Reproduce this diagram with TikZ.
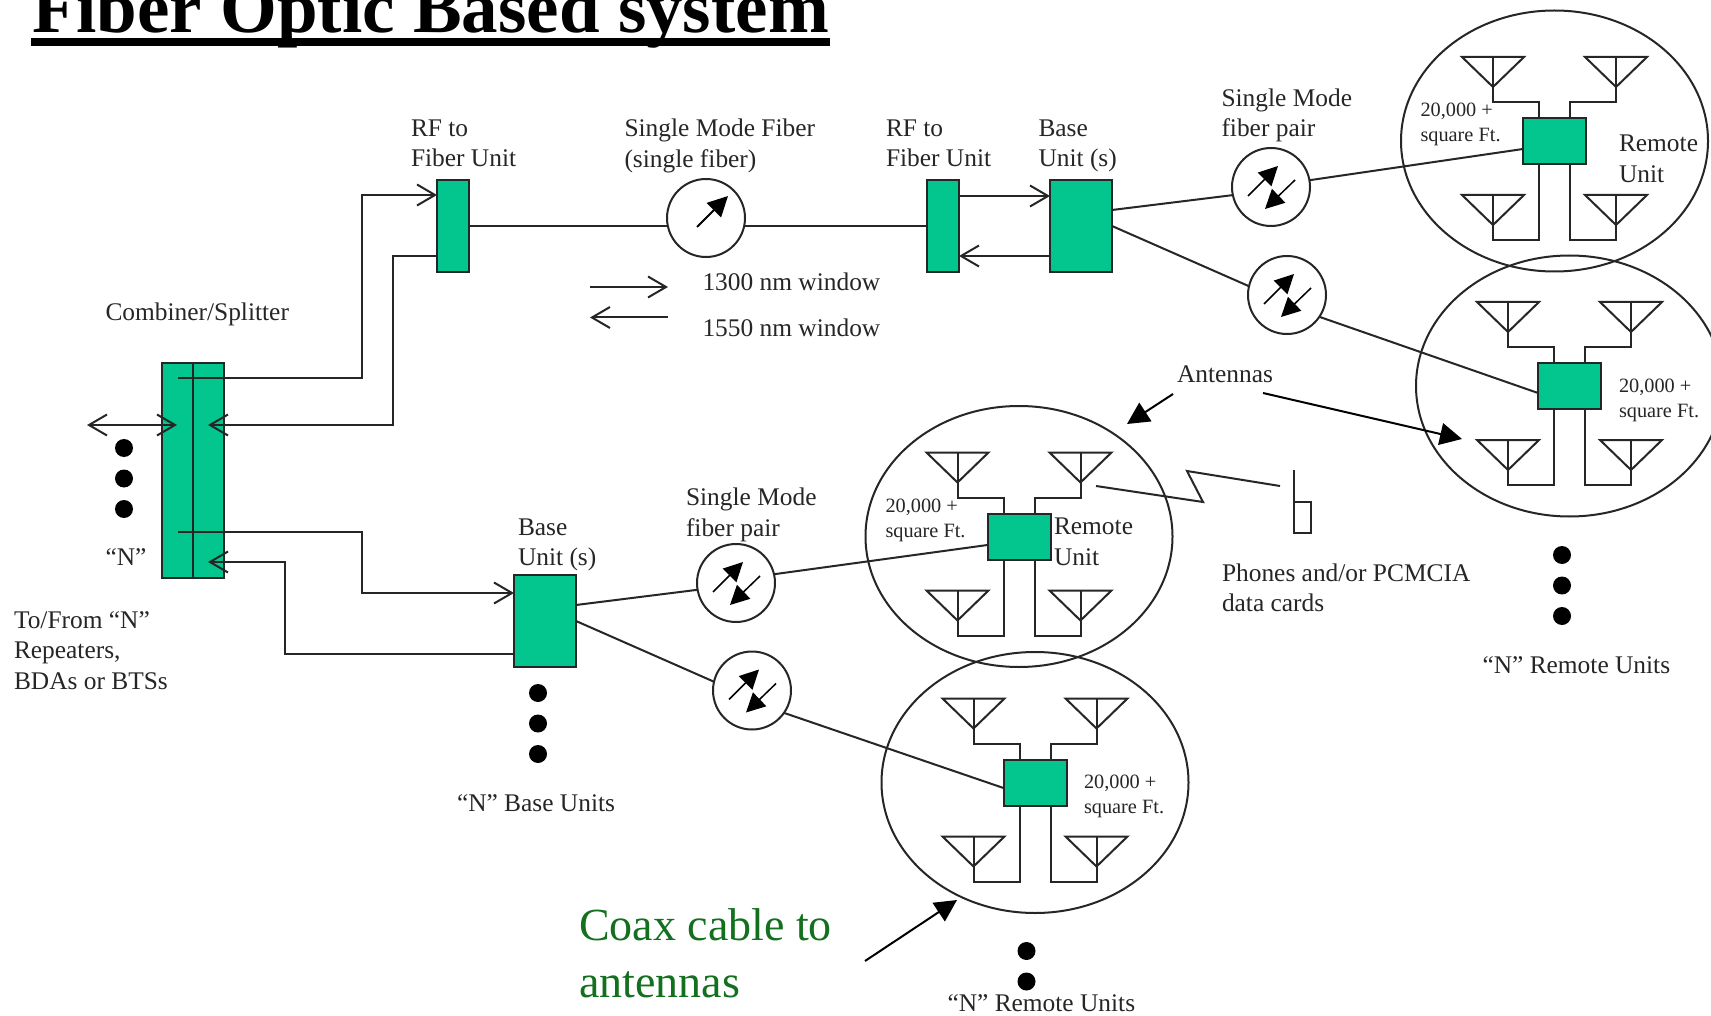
\documentclass[tikz,border=0pt]{standalone}
\usepackage{fontspec}
\setmainfont{Liberation Serif}
\usetikzlibrary{arrows.meta,positioning}
\definecolor{unitgreen}{RGB}{2,198,141}
\definecolor{ink}{RGB}{38,38,38}
\definecolor{coaxgreen}{RGB}{18,112,30}

\begin{document}
\begin{tikzpicture}[
    x=1pt, y=-1pt,
    line width=2pt, draw=ink,
    lab/.style={anchor=west, inner sep=0pt, align=left, text=ink, font=\fontsize{25.4}{30.5}\selectfont},
    smalllab/.style={anchor=west, inner sep=0pt, align=left, text=ink, font=\fontsize{20.3}{25}\selectfont},
    coaxlab/.style={anchor=west, inner sep=0pt, align=left, text=coaxgreen, font=\fontsize{46}{57}\selectfont},
    unitbox/.style={draw, fill=unitgreen, inner sep=0pt, outer sep=0pt, minimum width=#1},
    fibercirc/.style={draw, circle, inner sep=0pt, outer sep=0pt, minimum size=78pt},
    dot/.style={fill=black, circle, inner sep=0pt, outer sep=0pt, minimum size=18pt},
    flow/.style={-{Straight Barb[length=18pt,width=21pt]}},
    both/.style={{Straight Barb[length=18pt,width=21pt]}-{Straight Barb[length=18pt,width=21pt]}},
    point/.style={-{Triangle[length=22pt,width=22pt]}, draw=black},
    fiberhead/.style={-{Triangle[length=19pt,width=19pt]}, line width=1.5pt, draw=black},
    pair/.pic={
        \node[fibercirc] (-c) at (0,0) {};
        \draw[fiberhead] (-23,9) -- (7,-21);
        \draw[fiberhead] (24,-7) -- (-6,22);
    },
    cell/.pic={
        \draw (0,0) ellipse [x radius=153.5, y radius=130.5];
        \foreach \sx in {-1,1} {
            \draw (\sx*92.5,-84) -- (\sx*30.5,-84) -- (\sx*61.5,-54) -- cycle;
            \draw (\sx*61.5,-84) -- (\sx*61.5,-39) -- (\sx*15.5,-39) -- (\sx*15.5,-23);
            \draw (\sx*92.5,54) -- (\sx*30.5,54) -- (\sx*61.5,84) -- cycle;
            \draw (\sx*61.5,54) -- (\sx*61.5,99) -- (\sx*15.5,99) -- (\sx*15.5,23);
        }
        \node[unitbox=63pt, minimum height=46pt] (-box) at (0,0) {};
    }
]
\useasboundingbox (0,0) rectangle (1711,1016);
\clip (0,0) rectangle (1711,1016);
\fill[white] (0,0) rectangle (1711,1016);

\node[anchor=base west, inner sep=0pt, font=\fontsize{73}{80}\selectfont\bfseries] (title) at (31,33) {Fiber Optic Based system};
\draw[line width=8pt, draw=black] ([yshift=-9.5pt]title.base west) -- ([yshift=-9.5pt]title.base east);

\node[unitbox=62pt, minimum height=215pt] (comb) at (193,470.5) {};
\draw (comb.north) -- (comb.south);
\node[unitbox=32pt, minimum height=92pt] (rfa) at (453,226) {};
\node[unitbox=32pt, minimum height=92pt, right=458pt of rfa] (rfb) {};
\node[unitbox=62pt, minimum height=92pt, right=91pt of rfb] (basea) {};
\node[unitbox=62pt, minimum height=92pt] (baseb) at (545,621) {};
\node[fibercirc] (sfiber) at (706,218) {};
\draw[-{Triangle[length=20pt,width=20pt]}, draw=black] (697,227) -- (728,196);

\pic (pa) at (1271,187) {pair};
\pic (pb) at (1287,295) {pair};
\pic (pc) at (736,583) {pair};
\pic (pd) at (752,690.5) {pair};
\pic (cella) at (1554.5,141) {cell};
\pic (cellb) at (1569.5,386) {cell};
\pic (cellc) at (1019,536.5) {cell};
\pic (celld) at (1035,782.5) {cell};

\coordinate (ctop) at (178,378);
\coordinate (cbot) at (178,532);
\coordinate (cleft) at (87,425);
\coordinate (cmid) at (177,425);
\coordinate (cret) at (208,425);
\coordinate (cretb) at (208,562);
\draw[flow] (ctop) -| (362,195) -- ([yshift=-15pt]rfa.north west);
\draw[flow] ([yshift=16pt]rfa.south west) -| (393,425) -- (cret);
\draw[both] (cleft) -- (cmid);
\draw[flow] (cbot) -| (362,593) -- ([yshift=-18pt]baseb.north west);
\draw[flow] ([yshift=13pt]baseb.south west) -| (285,562) -- (cretb);
\draw (rfa.east) -- (rfa.east -| sfiber.west);
\draw (sfiber.east |- rfb.west) -- (rfb.west);
\draw[flow] ([yshift=-16pt]rfb.north east) -- ([yshift=-16pt]basea.north west);
\draw[flow] ([yshift=16pt]basea.south west) -- ([yshift=16pt]rfb.south east);

\draw ([yshift=16pt]basea.east) -- (pa-c.192);
\draw (pa-c.10) -- ([yshift=-8pt]cella-box.west);
\draw (basea.east) -- (pb-c.167);
\draw (pb-c.-34) -- ([yshift=-7pt]cellb-box.west);
\draw ([yshift=16pt]baseb.east) -- (pc-c.190);
\draw (pc-c.13) -- ([yshift=-8.5pt]cellc-box.west);
\draw (baseb.east) -- (pd-c.167);
\draw (pd-c.-35) -- ([yshift=-5.5pt]celld-box.west);

\coordinate (wa) at (590,287);
\coordinate (wb) at (668,287);
\coordinate (wc) at (668,317.5);
\coordinate (wd) at (590,317.5);
\draw[flow] (wa) -- (wb);
\draw[flow] (wc) -- (wd);

\node[dot] (dota) at (124,448) {};
\node[dot, below=12.5pt of dota] (dotb) {};
\node[dot, below=12.5pt of dotb] (dotc) {};
\node[dot] (dotd) at (538,693) {};
\node[dot, below=12.5pt of dotd] (dote) {};
\node[dot, below=12.5pt of dote] (dotf) {};
\node[dot] (dotg) at (1562,555) {};
\node[dot, below=12.5pt of dotg] (doth) {};
\node[dot, below=12.5pt of doth] (doti) {};
\node[dot] (dotj) at (1026.5,951) {};
\node[dot, below=12.5pt of dotj] (dotk) {};

\node[lab] (rfalab) at (410,143.5) {RF to\\Fiber Unit};
\node[lab] (sfiberlab) at (623.5,146) {Single Mode Fiber\\(single fiber)};
\node[lab] (rfblab) at (885,143.5) {RF to\\Fiber Unit};
\node[lab] (basealab) at (1037.5,146) {Base\\Unit (s)};
\node[lab] (palab) at (1220.5,115.5) {Single Mode\\fiber pair};
\node[lab] (wlab) at (701.5,281.5) {1300 nm window};
\node[lab] (wlabb) at (701.5,328) {1550 nm window};
\node[lab] (comblab) at (104.5,314) {Combiner/Splitter};
\node[lab] (nlab) at (104.5,557) {“N”};
\node[lab] (tolab) at (13,650.5) {To/From “N”\\Repeaters,\\BDAs or BTSs};
\node[lab] (baseblab) at (517,545) {Base\\Unit (s)};
\node[lab] (pclab) at (685,515) {Single Mode\\fiber pair};
\node[lab] (nbaselab) at (456,803) {“N” Base Units};
\node[lab] (antlab) at (1176,374) {Antennas};
\node[lab] (phonelab) at (1221,588) {Phones and/or PCMCIA\\data cards};
\node[lab] (nremlab) at (1481.5,665) {“N” Remote Units};
\node[lab] (nremlabb) at (946.5,1003) {“N” Remote Units};
\node[lab] (remalab) at (1618,159) {Remote\\Unit};
\node[lab] (remclab) at (1053,542) {Remote\\Unit};
\node[smalllab] (sqa) at (1419.5,124) {20,000 +\\square Ft.};
\node[smalllab] (sqb) at (1618,400) {20,000 +\\square Ft.};
\node[smalllab] (sqc) at (884.5,520) {20,000 +\\square Ft.};
\node[smalllab] (sqd) at (1083,796) {20,000 +\\square Ft.};
\node[coaxlab] (coaxlab) at (578,953) {Coax cable to\\antennas};

\coordinate (anta) at (1173,394);
\coordinate (antb) at (1127,424);
\coordinate (antc) at (1263,393);
\coordinate (antd) at (1462,439);
\coordinate (coaxa) at (865,961);
\coordinate (coaxb) at (957,900);
\draw[point] (anta) -- (antb);
\draw[point] (antc) -- (antd);
\draw[point] (coaxa) -- (coaxb);

\node[draw, inner sep=0pt, outer sep=0pt, minimum width=17pt, minimum height=31pt] (phone) at (1302.5,517.5) {};
\draw (phone.north west) -- ++(0,-32);
\coordinate (za) at (1096,486);
\coordinate (zb) at (1280,486);
\draw (za) -- (1203,502) -- (1187,471) -- (zb);
\end{tikzpicture}
\end{document}
